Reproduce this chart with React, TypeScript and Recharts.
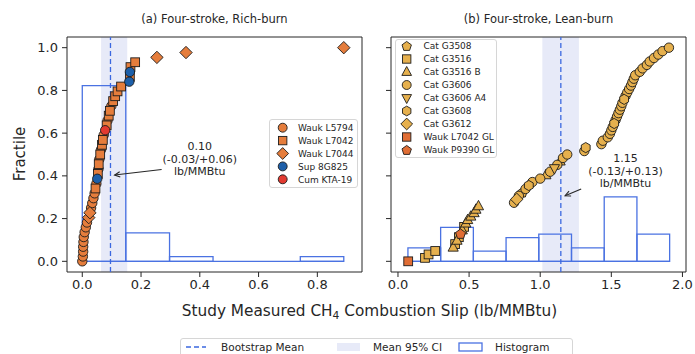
import React from "react";
import {
  ReferenceArea,
  ReferenceDot,
  ReferenceLine,
  Scatter,
  ScatterChart,
  XAxis,
  YAxis,
} from "recharts";

const FONT = "'DejaVu Sans', Verdana, sans-serif";
const INK = "#262626";
const EDGE = "#1c1c1c";
const HIST = "#4a72e2";
const MEAN = "#3b68e0";
const CI = "#e7eaf8";

const ORANGE = "#e57d3c";
const GOLD = "#e6b04d";
const GL_ORANGE = "#e06d34";

// (a) Rich-burn: measured slip, sorted ascending, with the engine model of each test
const RICH_X = [
  0.0, 0.002, 0.003, 0.003, 0.004, 0.005, 0.008, 0.012, 0.016, 0.022, 0.026, 0.03, 0.034, 0.038, 0.042,
  0.045, 0.048, 0.051, 0.053, 0.055, 0.056, 0.058, 0.061, 0.064, 0.067, 0.07, 0.073, 0.078, 0.083, 0.086,
  0.09, 0.094, 0.099, 0.105, 0.112, 0.12, 0.132, 0.16, 0.162, 0.162, 0.164, 0.18, 0.254, 0.353, 0.89,
];
const RICH_MODEL = [
  "L5794", "L5794", "L5794", "L5794", "L5794", "L5794", "L5794", "L5794", "L5794", "L7044", "L7044",
  "L5794", "L5794", "L5794", "L5794", "L7042", "L5794", "8G825", "L7042", "L5794", "L7042", "L5794",
  "L7042", "L5794", "L7042", "L7042", "L5794", "KTA19", "L7042", "L5794", "L7042", "L7042", "L5794",
  "L7042", "L7042", "L7042", "L7042", "8G825", "L7042", "8G825", "L7042", "L7042", "L7044", "L7044",
  "L7044",
];
const RICH_EDGES = [0, 0.148, 0.297, 0.445, 0.594, 0.742, 0.89];
const RICH_HIST = [0.822, 0.133, 0.022, 0, 0, 0.022];
const RICH_MEAN = 0.096;
const RICH_CI = [0.064, 0.153];

// (b) Lean-burn
const LEAN_X = [
  0.072, 0.19, 0.215, 0.262, 0.388, 0.402, 0.415, 0.428, 0.44, 0.452, 0.465, 0.477, 0.49, 0.512, 0.535,
  0.548, 0.566, 0.816, 0.835, 0.85, 0.874, 0.897, 0.92, 0.945, 1.0, 1.04, 1.07, 1.1, 1.12, 1.14, 1.16,
  1.19, 1.31, 1.32, 1.43, 1.44, 1.475, 1.49, 1.5, 1.51, 1.52, 1.53, 1.54, 1.55, 1.56, 1.57, 1.578, 1.59,
  1.6, 1.612, 1.625, 1.638, 1.648, 1.658, 1.668, 1.7, 1.72, 1.75, 1.77, 1.8, 1.83, 1.86, 1.905,
];
const LEAN_MODEL = [
  "WL7042", "G3516", "G3516", "G3516", "G3516B", "G3516", "G3516B", "G3516", "WP9390", "G3516B",
  "G3516", "G3516B", "G3516B", "G3516B", "G3516B", "G3516B", "G3516B", "G3606", "G3612", "G3606",
  "G3508", "G3606", "G3608", "G3606", "G3606", "G3516B", "G3606", "G3606A4", "G3606", "G3516B",
  "G3606", "G3606", "G3606", "G3608", "G3606", "G3606", "G3606", "G3606", "G3606", "G3606", "G3608",
  "G3606", "G3606", "G3606", "G3606", "G3606", "G3606", "G3608", "G3606", "G3606", "G3606", "G3606",
  "G3606", "G3606", "G3606", "G3606", "G3606", "G3606", "G3606", "G3606", "G3606", "G3606", "G3606",
];
const LEAN_EDGES = [0.07, 0.3, 0.53, 0.76, 0.99, 1.22, 1.45, 1.68, 1.91];
const LEAN_HIST = [0.063, 0.159, 0.048, 0.111, 0.127, 0.063, 0.302, 0.127];
const LEAN_MEAN = 1.145;
const LEAN_CI = [1.015, 1.272];

const Y_TICKS = [0, 0.2, 0.4, 0.6, 0.8, 1.0];
const RICH_TICKS = [0, 0.2, 0.4, 0.6, 0.8];
const LEAN_TICKS = [0, 0.5, 1.0, 1.5, 2.0];

type Series = { key: string; name: string; kind: string; color: string };

const RICH_SERIES: Series[] = [
  { key: "L5794", name: "Wauk L5794", kind: "circle", color: ORANGE },
  { key: "L7042", name: "Wauk L7042", kind: "square", color: ORANGE },
  { key: "L7044", name: "Wauk L7044", kind: "diamond", color: ORANGE },
  { key: "8G825", name: "Sup 8G825", kind: "circle", color: "#1d5fa9" },
  { key: "KTA19", name: "Cum KTA-19", kind: "circle", color: "#e23a30" },
];

const LEAN_SERIES: Series[] = [
  { key: "G3508", name: "Cat G3508", kind: "pentagon", color: GOLD },
  { key: "G3516", name: "Cat G3516", kind: "square", color: GOLD },
  { key: "G3516B", name: "Cat G3516 B", kind: "triUp", color: GOLD },
  { key: "G3606", name: "Cat G3606", kind: "circle", color: GOLD },
  { key: "G3606A4", name: "Cat G3606 A4", kind: "triDown", color: GOLD },
  { key: "G3608", name: "Cat G3608", kind: "hexagon", color: GOLD },
  { key: "G3612", name: "Cat G3612", kind: "diamond", color: GOLD },
  { key: "WL7042", name: "Wauk L7042 GL", kind: "square", color: GL_ORANGE },
  { key: "WP9390", name: "Wauk P9390 GL", kind: "pentagon", color: GL_ORANGE },
];

function regular(cx: number, cy: number, n: number, r: number) {
  const pts: string[] = [];
  for (let i = 0; i < n; i++) {
    const a = -Math.PI / 2 + (i * 2 * Math.PI) / n;
    pts.push(`${cx + r * Math.cos(a)},${cy + r * Math.sin(a)}`);
  }
  return pts.join(" ");
}

function Marker({ kind, cx, cy, fill, s = 1 }: { kind: string; cx: number; cy: number; fill: string; s?: number }) {
  const st = { fill, stroke: EDGE, strokeWidth: 0.9 };
  switch (kind) {
    case "square":
      return <rect x={cx - 4.4 * s} y={cy - 4.4 * s} width={8.8 * s} height={8.8 * s} {...st} />;
    case "diamond":
      return (
        <polygon
          points={`${cx},${cy - 6.2 * s} ${cx + 6.2 * s},${cy} ${cx},${cy + 6.2 * s} ${cx - 6.2 * s},${cy}`}
          {...st}
        />
      );
    case "triUp":
      return <polygon points={`${cx},${cy - 5.8 * s} ${cx + 5.1 * s},${cy + 3.6 * s} ${cx - 5.1 * s},${cy + 3.6 * s}`} {...st} />;
    case "triDown":
      return <polygon points={`${cx},${cy + 5.8 * s} ${cx + 5.1 * s},${cy - 3.6 * s} ${cx - 5.1 * s},${cy - 3.6 * s}`} {...st} />;
    case "pentagon":
      return <polygon points={regular(cx, cy + 0.4, 5, 5.2 * s)} {...st} />;
    case "hexagon":
      return <polygon points={regular(cx, cy, 6, 5.1 * s)} {...st} />;
    default:
      return <circle cx={cx} cy={cy} r={4.7 * s} {...st} />;
  }
}

function Arrow(p: any) {
  const { x1, y1, x2, y2 } = p;
  const a = Math.atan2(y2 - y1, x2 - x1);
  const L = 6;
  const w = 0.45;
  return (
    <g stroke={INK} strokeWidth={1.1} fill="none">
      <line x1={x1} y1={y1} x2={x2} y2={y2} />
      <polyline
        points={`${x2 - L * Math.cos(a - w)},${y2 - L * Math.sin(a - w)} ${x2},${y2} ${
          x2 - L * Math.cos(a + w)
        },${y2 - L * Math.sin(a + w)}`}
      />
    </g>
  );
}

type Note = { x: number; y: number; lines: string[]; tail: [number, number]; head: [number, number] };

function Panel(props: {
  xs: number[];
  models: string[];
  series: Series[];
  edges: number[];
  hist: number[];
  mean: number;
  ci: number[];
  xDomain: [number, number];
  xTicks: number[];
  yLabels: boolean;
  width: number;
  margin: { top: number; right: number; bottom: number; left: number };
  yAxisWidth: number;
  note: Note;
}) {
  const { xs, models, series, edges, hist, mean, ci, xDomain, xTicks, yLabels, note } = props;
  const n = xs.length;
  const points = xs.map((x, i) => ({ x, y: i / (n - 1), m: models[i] }));
  const tick = { fontSize: 13, fill: INK, fontFamily: FONT };
  return (
    <ScatterChart width={props.width} height={310} margin={props.margin}>
      <XAxis
        type="number"
        dataKey="x"
        domain={xDomain}
        ticks={xTicks}
        interval={0}
        allowDataOverflow
        axisLine={false}
        tickSize={5}
        tickMargin={3}
        tickLine={{ stroke: INK }}
        tick={tick}
        height={30}
        tickFormatter={(v: number) => v.toFixed(1)}
      />
      <YAxis
        type="number"
        dataKey="y"
        domain={[-0.05, 1.05]}
        ticks={Y_TICKS}
        interval={0}
        allowDataOverflow
        axisLine={false}
        tickSize={5}
        tickMargin={4}
        tickLine={{ stroke: INK }}
        tick={tick}
        width={props.yAxisWidth}
        tickFormatter={(v: number) => (yLabels ? v.toFixed(1) : "")}
      />
      <ReferenceArea x1={ci[0]} x2={ci[1]} y1={-0.05} y2={1.05} fill={CI} fillOpacity={1} stroke="none" />
      {hist.map((h, i) =>
        h > 0 ? (
          <ReferenceArea
            key={i}
            x1={edges[i]}
            x2={edges[i + 1]}
            y1={0}
            y2={h}
            fill="none"
            fillOpacity={0}
            stroke={HIST}
            strokeWidth={1.3}
          />
        ) : null
      )}
      <ReferenceLine
        segment={[
          { x: edges[0], y: 0 },
          { x: edges[edges.length - 1], y: 0 },
        ]}
        stroke={HIST}
        strokeWidth={1.3}
      />
      <ReferenceLine x={mean} stroke={MEAN} strokeDasharray="5 3" strokeWidth={1.3} />
      {series.map((s) => (
        <Scatter
          key={s.key}
          name={s.name}
          data={points.filter((p) => p.m === s.key)}
          isAnimationActive={false}
          shape={(p: any) => <Marker kind={s.kind} cx={p.cx} cy={p.cy} fill={s.color} />}
        />
      ))}
      <ReferenceLine
        segment={[
          { x: note.tail[0], y: note.tail[1] },
          { x: note.head[0], y: note.head[1] },
        ]}
        shape={(p: any) => <Arrow {...p} />}
      />
      <ReferenceDot
        x={note.x}
        y={note.y}
        r={0}
        shape={(p: any) => (
          <text x={p.cx} y={p.cy + 4} textAnchor="middle" fontSize={11} fill={INK} fontFamily={FONT}>
            {note.lines.map((l, i) => (
              <tspan key={i} x={p.cx} dy={i === 0 ? -12.6 : 12.6}>
                {l}
              </tspan>
            ))}
          </text>
        )}
      />
      <ReferenceArea
        x1={xDomain[0]}
        x2={xDomain[1]}
        y1={-0.05}
        y2={1.05}
        fill="none"
        fillOpacity={0}
        stroke={INK}
        strokeWidth={1}
      />
    </ScatterChart>
  );
}

function LegendBox({
  left,
  top,
  width,
  height,
  first,
  rowH,
  markerX,
  textX,
  items,
}: {
  left: number;
  top: number;
  width: number;
  height: number;
  first: number;
  rowH: number;
  markerX: number;
  textX: number;
  items: Series[];
}) {
  return (
    <div
      style={{
        position: "absolute",
        left,
        top,
        width,
        height,
        boxSizing: "border-box",
        border: "1px solid #d6d6d6",
        borderRadius: 3,
        background: "rgba(255,255,255,0.85)",
      }}
    >
      <svg width={width} height={height} style={{ position: "absolute", left: -1, top: -1 }}>
        {items.map((s, i) => (
          <g key={s.key}>
            <Marker kind={s.kind} cx={markerX} cy={first + i * rowH} fill={s.color} s={0.95} />
            <text x={textX} y={first + i * rowH + 3.3} fontSize={9} fill={INK} fontFamily={FONT}>
              {s.name}
            </text>
          </g>
        ))}
      </svg>
    </div>
  );
}

const RICH_NOTE: Note = {
  x: 0.4,
  y: 0.48,
  lines: ["0.10", "(-0.03/+0.06)", "lb/MMBtu"],
  tail: [0.27, 0.43],
  head: [0.11, 0.404],
};

const LEAN_NOTE: Note = {
  x: 1.6,
  y: 0.425,
  lines: ["1.15", "(-0.13/+0.13)", "lb/MMBtu"],
  tail: [1.288, 0.339],
  head: [1.175, 0.307],
};

export default function App() {
  return (
    <div
      style={{
        position: "absolute",
        left: 0,
        top: 0,
        width: 695,
        height: 354,
        overflow: "hidden",
        background: "#fff",
        fontFamily: FONT,
        color: INK,
      }}
    >
      <div style={{ position: "absolute", left: 0, top: 0 }}>
        <Panel
          xs={RICH_X}
          models={RICH_MODEL}
          series={RICH_SERIES}
          edges={RICH_EDGES}
          hist={RICH_HIST}
          mean={RICH_MEAN}
          ci={RICH_CI}
          xDomain={[-0.052, 0.952]}
          xTicks={RICH_TICKS}
          yLabels
          width={370}
          margin={{ top: 37, right: 8, bottom: 8, left: 37 }}
          yAxisWidth={30}
          note={RICH_NOTE}
        />
      </div>
      <div style={{ position: "absolute", left: 360, top: 0 }}>
        <Panel
          xs={LEAN_X}
          models={LEAN_MODEL}
          series={LEAN_SERIES}
          edges={LEAN_EDGES}
          hist={LEAN_HIST}
          mean={LEAN_MEAN}
          ci={LEAN_CI}
          xDomain={[-0.049, 2.025]}
          xTicks={LEAN_TICKS}
          yLabels={false}
          width={335}
          margin={{ top: 37, right: 9, bottom: 8, left: 11 }}
          yAxisWidth={20}
          note={LEAN_NOTE}
        />
      </div>

      <div style={{ position: "absolute", left: 67, top: 10, width: 295, textAlign: "center", fontSize: 11.5, lineHeight: "18px" }}>
        (a) Four-stroke, Rich-burn
      </div>
      <div style={{ position: "absolute", left: 391, top: 10, width: 295, textAlign: "center", fontSize: 11.5, lineHeight: "18px" }}>
        (b) Four-stroke, Lean-burn
      </div>
      <div
        style={{
          position: "absolute",
          left: 20 - 50,
          top: 154 - 10,
          width: 100,
          height: 20,
          lineHeight: "20px",
          textAlign: "center",
          fontSize: 15,
          transform: "rotate(-90deg)",
        }}
      >
        Fractile
      </div>
      <div style={{ position: "absolute", left: 60, top: 301, width: 619, textAlign: "center", fontSize: 15.3, lineHeight: "20px" }}>
        Study Measured CH<sub style={{ fontSize: "70%", verticalAlign: "-0.25em", lineHeight: 0 }}>4</sub> Combustion Slip
        (lb/MMBtu)
      </div>

      <LegendBox left={269} top={119} width={89} height={69} first={8.7} rowH={12.9} markerX={13.7} textX={29} items={RICH_SERIES} />
      <LegendBox left={395} top={39} width={102} height={119} first={7} rowH={13} markerX={11.7} textX={28.5} items={LEAN_SERIES} />

      <div
        style={{
          position: "absolute",
          left: 180,
          top: 338,
          width: 393,
          height: 19,
          boxSizing: "border-box",
          border: "1px solid #d6d6d6",
          borderRadius: 3,
        }}
      >
        <svg width={393} height={19} style={{ position: "absolute", left: -1, top: -1 }}>
          <line x1={6} y1={9} x2={26} y2={9} stroke={MEAN} strokeWidth={1.5} strokeDasharray="5 3" />
          <text x={41} y={13} fontSize={10.5} fill={INK} fontFamily={FONT}>
            Bootstrap Mean
          </text>
          <rect x={157} y={5} width={23} height={8} fill={CI} />
          <text x={193} y={13} fontSize={10.5} fill={INK} fontFamily={FONT}>
            Mean 95% CI
          </text>
          <rect x={279} y={5} width={23} height={8} fill="none" stroke={HIST} strokeWidth={1.3} />
          <text x={315} y={13} fontSize={10.5} fill={INK} fontFamily={FONT}>
            Histogram
          </text>
        </svg>
      </div>
    </div>
  );
}
